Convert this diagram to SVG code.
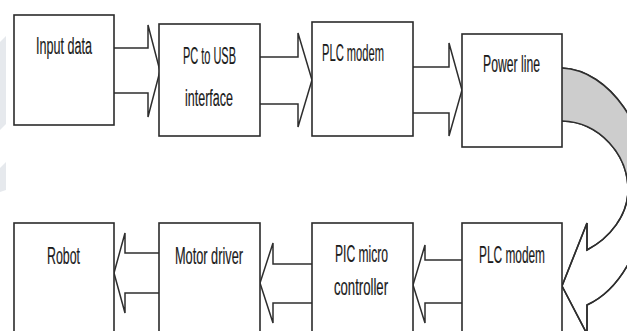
<svg xmlns="http://www.w3.org/2000/svg" width="627" height="331" viewBox="0 0 627 331">
  <defs>
    <style>
      .box { fill: #ffffff; stroke: #2b2b2b; stroke-width: 1.6; }
      .arrow { fill: #ffffff; stroke: #2e2e2e; stroke-width: 1.5; stroke-linejoin: miter; }
      .curve { fill: none; stroke: #2e2e2e; stroke-width: 1.6; }
      .band { fill: #cdcdcd; stroke: none; }
      .label { font-family: "Liberation Sans Narrow", "Liberation Sans", Arial, sans-serif; font-size: 24.5px; fill: #1a1a1a; stroke: #1a1a1a; stroke-width: 0.2; }
      .mark { fill: #e6e9ed; }
    </style>
  </defs>

  <rect width="627" height="331" fill="#ffffff"/>

  <!-- faint backdrop shapes on the left edge -->
  <polygon class="mark" points="0,42 6,36 6,124 0,130"/>
  <polygon class="mark" points="0,168 6,162 6,190 0,192"/>

  <!-- connectors -->
  <g id="connectors">
    <!-- top row, pointing right -->
    <path class="arrow" d="M114,48 L148,48 L148,25 L160,71 L148,117 L148,93 L114,93"/>
    <path class="arrow" d="M260,57 L298,57 L298,33 L312,80 L298,127 L298,104 L260,104"/>
    <path class="arrow" d="M413,67 L449,67 L449,43 L462,90 L449,136 L449,113 L413,113"/>

    <!-- curved arrow from the power line down to the lower modem -->
    <path class="arrow" d="M562,68 C610,70 650,130 648,190 C646,245 620,290 587,305 L587,334 L562,286 L587,223 L587,250 C610,238 628,215 628,190 C628,155 600,122 562,121 Z" stroke="none"/>
    <path class="band" d="M562,68 C610,70 650,130 648,190 L628,190 C628,155 600,122 562,121 Z"/>
    <path class="curve" d="M562,68 C610,70 650,130 648,190 C646,245 620,290 587,305 L587,334 M587,223 L562,286 L587,334 M587,223 L587,250 C610,238 628,215 628,190 C628,155 600,122 562,121"/>

    <!-- bottom row, pointing left -->
    <path class="arrow" d="M462,260 L425,260 L425,245 L413,285 L425,323 L425,303 L462,303"/>
    <path class="arrow" d="M312,264 L273,264 L273,243 L260,283 L273,323 L273,303 L312,303"/>
    <path class="arrow" d="M159,253 L125,253 L125,233 L114,273 L125,313 L125,293 L159,293"/>
  </g>

  <!-- top row -->
  <g id="input-data">
    <rect class="box" x="14" y="15" width="100" height="110"/>
    <text class="label" x="36" y="54" textLength="56" lengthAdjust="spacingAndGlyphs">Input data</text>
  </g>
  <g id="pc-usb">
    <rect class="box" x="159" y="24" width="101" height="112"/>
    <text class="label" x="183" y="64" textLength="53" lengthAdjust="spacingAndGlyphs">PC to USB</text>
    <text class="label" x="185" y="106" textLength="48" lengthAdjust="spacingAndGlyphs">interface</text>
  </g>
  <g id="plc-modem-tx">
    <rect class="box" x="312" y="22" width="101" height="114"/>
    <text class="label" x="322" y="61" textLength="62" lengthAdjust="spacingAndGlyphs">PLC modem</text>
  </g>
  <g id="power-line">
    <rect class="box" x="462" y="34" width="100" height="113"/>
    <text class="label" x="483" y="72" textLength="57" lengthAdjust="spacingAndGlyphs">Power line</text>
  </g>

  <!-- bottom row -->
  <g id="robot">
    <rect class="box" x="14" y="223" width="100" height="130"/>
    <text class="label" x="47" y="264" textLength="33" lengthAdjust="spacingAndGlyphs">Robot</text>
  </g>
  <g id="motor-driver">
    <rect class="box" x="159" y="223" width="101" height="130"/>
    <text class="label" x="175" y="264" textLength="68" lengthAdjust="spacingAndGlyphs">Motor driver</text>
  </g>
  <g id="pic-controller">
    <rect class="box" x="312" y="223" width="101" height="130"/>
    <text class="label" x="335" y="262" textLength="53" lengthAdjust="spacingAndGlyphs">PIC micro</text>
    <text class="label" x="334" y="295" textLength="54" lengthAdjust="spacingAndGlyphs">controller</text>
  </g>
  <g id="plc-modem-rx">
    <rect class="box" x="462" y="223" width="100" height="130"/>
    <text class="label" x="479" y="263" textLength="66" lengthAdjust="spacingAndGlyphs">PLC modem</text>
  </g>
</svg>
